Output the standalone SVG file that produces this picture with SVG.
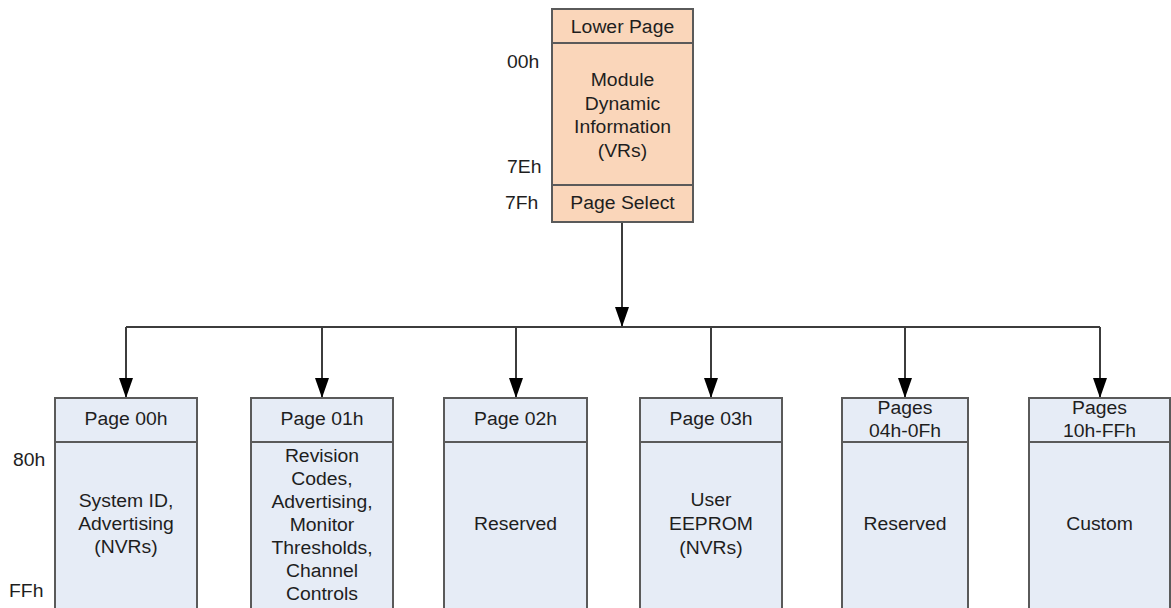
<svg xmlns="http://www.w3.org/2000/svg" width="1171" height="608" viewBox="0 0 1171 608">
  <style>
    text { font-family: "Liberation Sans", Arial, sans-serif; font-size: 17.6px; fill: #1e1e1e; }
    .c { text-anchor: middle; }
    .box { stroke: #5a5a5a; stroke-width: 2; }
    .peach { fill: #FAD6BA; }
    .blue { fill: #E6ECF6; }
    .conn { stroke: #3c3c3c; stroke-width: 2; fill: none; }
  </style>
  <defs>
    <marker id="arrow" viewBox="0 0 20 14" refX="20" refY="7" markerWidth="20" markerHeight="14" markerUnits="userSpaceOnUse" orient="auto">
      <path d="M0,0 L20,7 L0,14 Z" fill="#000"/>
    </marker>
  </defs>

  <g id="connectors">
    <line class="conn" x1="622" y1="222" x2="622" y2="327" marker-end="url(#arrow)"/>
    <line class="conn" x1="126" y1="327" x2="1100" y2="327"/>
    <line class="conn" x1="126" y1="327" x2="126" y2="398" marker-end="url(#arrow)"/>
    <line class="conn" x1="322" y1="327" x2="322" y2="398" marker-end="url(#arrow)"/>
    <line class="conn" x1="516" y1="327" x2="516" y2="398" marker-end="url(#arrow)"/>
    <line class="conn" x1="711" y1="327" x2="711" y2="398" marker-end="url(#arrow)"/>
    <line class="conn" x1="905" y1="327" x2="905" y2="398" marker-end="url(#arrow)"/>
    <line class="conn" x1="1100" y1="327" x2="1100" y2="398" marker-end="url(#arrow)"/>
  </g>

  <g id="lower-page">
    <rect class="box peach" x="552" y="9" width="141" height="34"/>
    <rect class="box peach" x="552" y="43" width="141" height="142"/>
    <rect class="box peach" x="552" y="185" width="141" height="37"/>
    <text class="c" transform="translate(622.5,33) scale(1.1,1)">Lower Page</text>
    <text class="c" transform="translate(622.5,86) scale(1.1,1)">Module</text>
    <text class="c" transform="translate(622.5,109.5) scale(1.1,1)">Dynamic</text>
    <text class="c" transform="translate(622.5,133) scale(1.1,1)">Information</text>
    <text class="c" transform="translate(622.5,156.5) scale(1.1,1)">(VRs)</text>
    <text class="c" transform="translate(622.5,209) scale(1.1,1)">Page Select</text>
    <text transform="translate(507,68) scale(1.1,1)">00h</text>
    <text transform="translate(507,173) scale(1.1,1)">7Eh</text>
    <text transform="translate(505,209) scale(1.1,1)">7Fh</text>
  </g>

  <g id="address-labels">
    <text transform="translate(13,466) scale(1.1,1)">80h</text>
    <text transform="translate(9,597) scale(1.1,1)">FFh</text>
  </g>

  <g id="page-00h">
    <rect class="box blue" x="55" y="398" width="142" height="44"/>
    <rect class="box blue" x="55" y="442" width="142" height="172"/>
    <text class="c" transform="translate(126,425) scale(1.1,1)">Page 00h</text>
    <text class="c" transform="translate(126,507) scale(1.1,1)">System ID,</text>
    <text class="c" transform="translate(126,530) scale(1.1,1)">Advertising</text>
    <text class="c" transform="translate(126,553) scale(1.1,1)">(NVRs)</text>
  </g>

  <g id="page-01h">
    <rect class="box blue" x="251" y="398" width="142" height="44"/>
    <rect class="box blue" x="251" y="442" width="142" height="172"/>
    <text class="c" transform="translate(322,425) scale(1.1,1)">Page 01h</text>
    <text class="c" transform="translate(322,462) scale(1.1,1)">Revision</text>
    <text class="c" transform="translate(322,485) scale(1.1,1)">Codes,</text>
    <text class="c" transform="translate(322,508) scale(1.1,1)">Advertising,</text>
    <text class="c" transform="translate(322,531) scale(1.1,1)">Monitor</text>
    <text class="c" transform="translate(322,554) scale(1.1,1)">Thresholds,</text>
    <text class="c" transform="translate(322,577) scale(1.1,1)">Channel</text>
    <text class="c" transform="translate(322,600) scale(1.1,1)">Controls</text>
  </g>

  <g id="page-02h">
    <rect class="box blue" x="444" y="398" width="143" height="44"/>
    <rect class="box blue" x="444" y="442" width="143" height="172"/>
    <text class="c" transform="translate(515.5,425) scale(1.1,1)">Page 02h</text>
    <text class="c" transform="translate(515.5,530) scale(1.1,1)">Reserved</text>
  </g>

  <g id="page-03h">
    <rect class="box blue" x="640" y="398" width="142" height="44"/>
    <rect class="box blue" x="640" y="442" width="142" height="172"/>
    <text class="c" transform="translate(711,425) scale(1.1,1)">Page 03h</text>
    <text class="c" transform="translate(711,506) scale(1.1,1)">User</text>
    <text class="c" transform="translate(711,530) scale(1.1,1)">EEPROM</text>
    <text class="c" transform="translate(711,554) scale(1.1,1)">(NVRs)</text>
  </g>

  <g id="pages-04h-0fh">
    <rect class="box blue" x="842" y="398" width="126" height="44"/>
    <rect class="box blue" x="842" y="442" width="126" height="172"/>
    <text class="c" transform="translate(905,414) scale(1.1,1)">Pages</text>
    <text class="c" transform="translate(905,437) scale(1.1,1)">04h-0Fh</text>
    <text class="c" transform="translate(905,530) scale(1.1,1)">Reserved</text>
  </g>

  <g id="pages-10h-ffh">
    <rect class="box blue" x="1029" y="398" width="141" height="44"/>
    <rect class="box blue" x="1029" y="442" width="141" height="172"/>
    <text class="c" transform="translate(1099.5,414) scale(1.1,1)">Pages</text>
    <text class="c" transform="translate(1099.5,437) scale(1.1,1)">10h-FFh</text>
    <text class="c" transform="translate(1099.5,530) scale(1.1,1)">Custom</text>
  </g>
</svg>
